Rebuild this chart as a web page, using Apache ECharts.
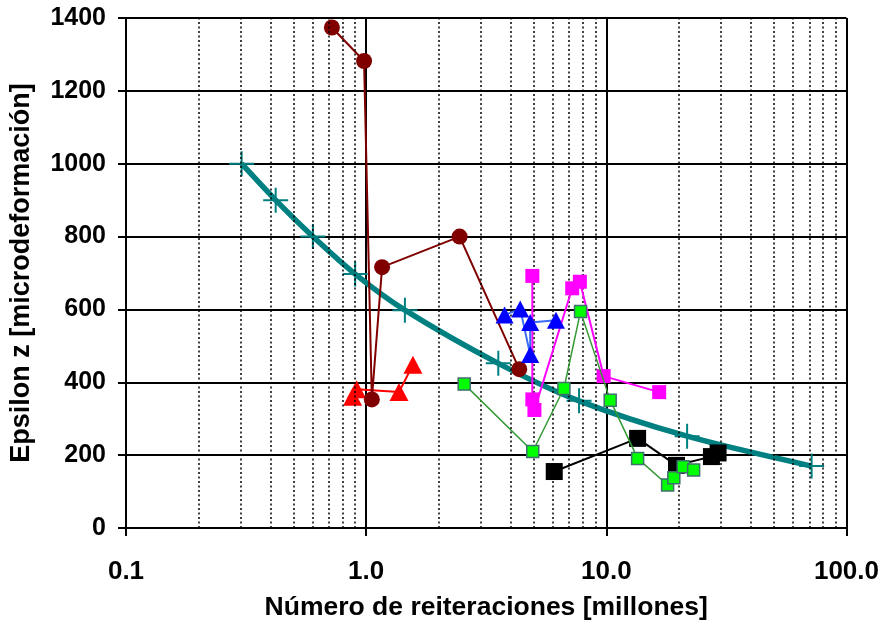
<!DOCTYPE html>
<html>
<head>
<meta charset="utf-8">
<script src="https://cdn.jsdelivr.net/npm/echarts@6/dist/echarts.min.js"></script>
<style>html,body{margin:0;padding:0;background:#fff}#c{width:882px;height:626px}</style>
</head>
<body>
<div id="c"></div>
<script>
// ---- data ----
const xTickValues = [0.1, 1, 10, 100];
const xTickLabels = ['0.1', '1.0', '10.0', '100.0'];
const minorGridX = [0.2,0.3,0.4,0.5,0.6,0.7,0.8,0.9,2,3,4,5,6,7,8,9,20,30,40,50,60,70,80,90];

const curveX = [0.303, 0.42, 0.6, 0.9, 1.45, 3.55, 7.7, 21.7, 71.6];
const curveY = [1000, 900, 800, 697, 598, 452, 349, 252, 170];

const darkRedX = [0.72, 0.98, 1.056, 1.165, 2.45, 4.34];
const darkRedY = [1374, 1282, 353, 716, 800, 436];

const redX = [0.878, 0.912, 1.37, 1.566];
const redY = [360, 381, 373, 448];

const blueX = [3.77, 4.38, 4.82, 4.82, 6.17];
const blueY = [585, 601, 476, 564, 570];

const magentaX = [4.92, 4.92, 5.02, 7.21, 7.76, 9.75, 16.6];
const magentaY = [692, 353, 324, 658, 676, 417, 373];

const greenX = [2.56, 4.94, 6.66, 7.81, 10.38, 13.5, 18.0, 19.1, 20.9, 23.1];
const greenY = [395, 210, 383, 594, 351, 191, 118, 138, 168, 159];

const blackX = [6.07, 13.5, 19.6, 27.4, 29.2];
const blackY = [155, 246, 172, 196, 206];

const zip = (xs, ys) => xs.map((x, i) => [x, ys[i]]);
const PLUS = 'path://M11.5,0h2v25h-2z M0,11.5h25v2h-25z';
const FONT = '"Liberation Sans", Arial, sans-serif';

const chart = echarts.init(document.getElementById('c'), null, {renderer: 'canvas'});
chart.setOption({
  animation: false,
  backgroundColor: '#fff',
  grid: {left: 124, right: 34, top: 18, bottom: 98, containLabel: false},
  xAxis: {
    type: 'log', logBase: 10, min: 0.1, max: 100,
    name: 'Número de reiteraciones [millones]',
    nameLocation: 'middle', nameGap: 66,
    nameTextStyle: {fontFamily: FONT, fontWeight: 'bold', fontSize: 26.5, color: '#000'},
    axisLine: {show: true, onZero: false, lineStyle: {color: '#000', width: 2}},
    axisTick: {show: true, inside: false, length: 8, lineStyle: {color: '#000', width: 2}},
    axisLabel: {
      margin: 31, fontFamily: FONT, fontWeight: 'bold', fontSize: 26, color: '#000',
      formatter: v => { const i = xTickValues.findIndex(t => Math.abs(Math.log10(t) - Math.log10(v)) < 1e-6); return i >= 0 ? xTickLabels[i] : ''; }
    },
    splitLine: {show: true, lineStyle: {color: '#000', width: 2}},
    minorTick: {show: false}, minorSplitLine: {show: false}
  },
  yAxis: {
    type: 'value', min: 0, max: 1400, interval: 200,
    name: 'Epsilon z [microdeformación]',
    nameLocation: 'middle', nameGap: 91, nameRotate: 90,
    nameTextStyle: {fontFamily: FONT, fontWeight: 'bold', fontSize: 27, color: '#000'},
    axisLine: {show: true, onZero: false, lineStyle: {color: '#000', width: 2}},
    axisTick: {show: true, inside: false, length: 8, lineStyle: {color: '#000', width: 2}},
    axisLabel: {margin: 20, fontFamily: FONT, fontWeight: 'bold', fontSize: 25, color: '#000',
      formatter: v => String(v)},
    splitLine: {show: true, lineStyle: {color: '#000', width: 2}}
  },
  series: [
    {
      name: 'minor', type: 'line', data: [], silent: true,
      markLine: {
        silent: true, symbol: ['none', 'none'], label: {show: false},
        lineStyle: {color: '#000', width: 1.5, type: [2, 2.5]},
        data: minorGridX.map(v => ({xAxis: v}))
      }
    },
    {
      name: 'curva', type: 'line', data: zip(curveX, curveY), smooth: 0.3,
      lineStyle: {color: '#008080', width: 5.5},
      symbol: PLUS, symbolSize: 25, showAllSymbol: true,
      itemStyle: {color: '#008080'}, z: 2
    },
    {
      name: 'rojo', type: 'line', data: zip(redX, redY),
      lineStyle: {color: '#ff0000', width: 2},
      symbol: 'triangle', symbolSize: [19, 18],
      itemStyle: {color: '#ff0000'}, z: 3
    },
    {
      name: 'granate', type: 'line', data: zip(darkRedX, darkRedY),
      lineStyle: {color: '#800000', width: 2},
      symbol: 'circle', symbolSize: 16,
      itemStyle: {color: '#800000'}, z: 4
    },
    {
      name: 'magenta', type: 'line', data: zip(magentaX, magentaY),
      lineStyle: {color: '#ff00ff', width: 2},
      symbol: 'rect', symbolSize: 14,
      itemStyle: {color: '#ff00ff'}, z: 5
    },
    {
      name: 'azul', type: 'line', data: zip(blueX, blueY),
      lineStyle: {color: '#3a6cf5', width: 2},
      symbol: 'triangle', symbolSize: [18, 17],
      itemStyle: {color: '#0000ff'}, z: 6
    },
    {
      name: 'negro', type: 'line', data: zip(blackX, blackY),
      lineStyle: {color: '#000', width: 2},
      symbol: 'rect', symbolSize: 17,
      itemStyle: {color: '#000'}, z: 7
    },
    {
      name: 'verde', type: 'line', data: zip(greenX, greenY),
      lineStyle: {color: '#339933', width: 1.5},
      symbol: 'rect', symbolSize: 12,
      itemStyle: {color: '#00ff00', borderColor: '#3f6f6f', borderWidth: 1.5}, z: 8
    }
  ]
});
</script>
</body>
</html>
